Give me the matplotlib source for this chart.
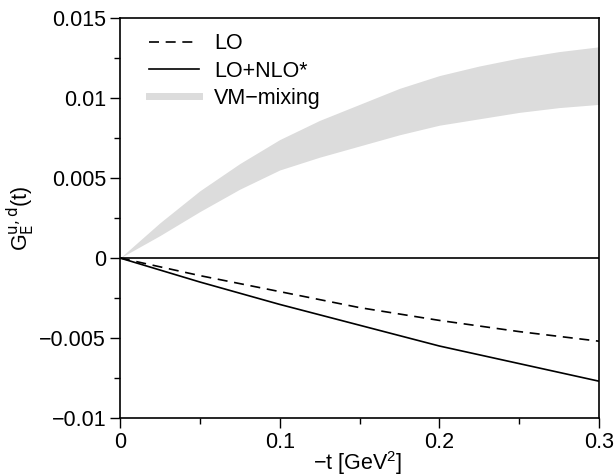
import numpy as np
import matplotlib
matplotlib.use("Agg")
import matplotlib.pyplot as plt
from matplotlib.ticker import MultipleLocator
from matplotlib.lines import Line2D

plt.rcParams['font.family'] = ['Liberation Sans', 'DejaVu Sans']

# data
t_lines = [0.0, 0.05, 0.1, 0.15, 0.2, 0.25, 0.3]
lo = [0.0, -0.0011, -0.0021, -0.0031, -0.0039, -0.0046, -0.0052]
lo_nlo = [0.0, -0.0015, -0.0029, -0.0042, -0.0055, -0.0066, -0.0077]

t_band = [0.0, 0.0125, 0.025, 0.05, 0.075, 0.1, 0.125, 0.15, 0.175, 0.2, 0.225, 0.25, 0.275, 0.3]
vm_upper = [0.0, 0.0011, 0.0022, 0.0042, 0.0059, 0.0074, 0.0086, 0.0096, 0.0106, 0.0114, 0.0120, 0.0125, 0.0129, 0.0132]
vm_lower = [0.0, 0.0007, 0.0014, 0.0029, 0.0043, 0.0055, 0.0063, 0.0070, 0.0077, 0.0083, 0.0087, 0.0091, 0.0094, 0.0096]

y_ticks = [-0.01, -0.005, 0.0, 0.005, 0.01, 0.015]
y_ticklabels = ['\u22120.01', '\u22120.005', '0', '0.005', '0.01', '0.015']
x_ticks = [0.0, 0.1, 0.2, 0.3]
x_ticklabels = ['0', '0.1', '0.2', '0.3']

FS = 15.5

fig = plt.figure(figsize=(6.15, 4.76), dpi=100)
ax = fig.add_axes([120/615, 1 - 418/476, (599-120)/615, (418-18)/476])

band_color = '#dcdcdc'
ax.fill_between(t_band, vm_lower, vm_upper, color=band_color, lw=0, zorder=1)
ax.axhline(0, color='black', lw=1.2, zorder=2)
ax.plot(t_lines, lo, color='black', lw=1.2, ls=(0, (6, 4)), zorder=3)
ax.plot(t_lines, lo_nlo, color='black', lw=1.2, zorder=3)

ax.set_xlim(0, 0.3)
ax.set_ylim(-0.01, 0.015)
ax.set_xticks(x_ticks)
ax.set_xticklabels(x_ticklabels)
ax.set_yticks(y_ticks)
ax.set_yticklabels(y_ticklabels)
ax.xaxis.set_minor_locator(MultipleLocator(0.05))
ax.yaxis.set_minor_locator(MultipleLocator(0.0025))
ax.tick_params(which='major', direction='out', length=7, width=1, labelsize=FS, pad=3)
ax.tick_params(which='minor', direction='out', length=4, width=1)
ax.tick_params(top=False, right=False, which='both')
for s in ax.spines.values():
    s.set_linewidth(1.2)

fig.text(358/615, 6/476, '\u2212t [GeV$^{\\mathregular{2}}$]', fontsize=FS,
         ha='center', va='baseline')
ax.set_ylabel('G$_\\mathrm{E}^{\\mathrm{u,d}}$(t)', fontsize=FS, labelpad=2)

handles = [
    Line2D([], [], color='black', lw=1.2, ls=(0, (6, 4))),
    Line2D([], [], color='black', lw=1.2),
    Line2D([], [], color=band_color, lw=5),
]
ax.legend(handles, ['LO', 'LO+NLO*', 'VM\u2212mixing'], loc='upper left',
          frameon=False, fontsize=FS, handlelength=2.3, handletextpad=0.7,
          labelspacing=0.3, borderaxespad=0.3, bbox_to_anchor=(0.03, 1.0))

fig.savefig('out.png', dpi=100)
